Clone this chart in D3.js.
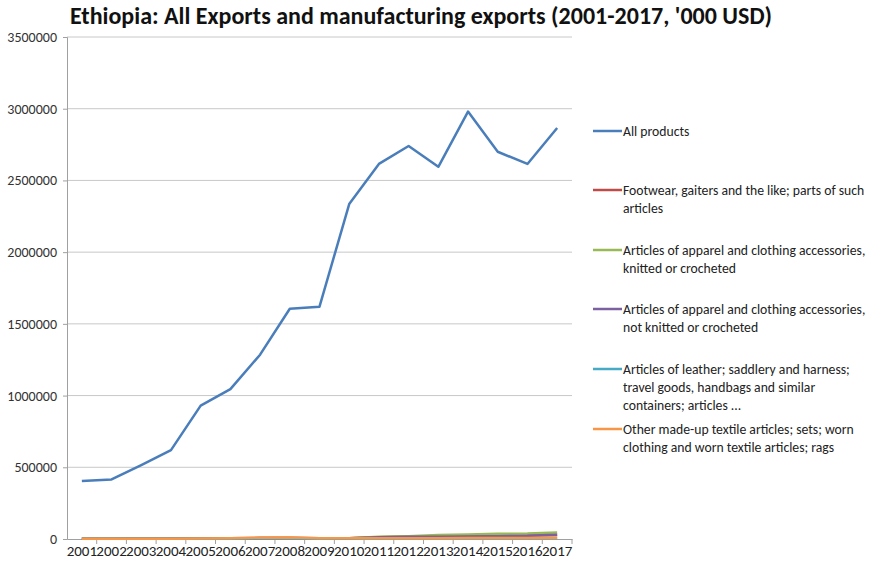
<!DOCTYPE html>
<html><head><meta charset="utf-8">
<script src="https://cdn.jsdelivr.net/npm/d3@7"></script>
<style>body{margin:0;background:#fff}svg{display:block}</style>
</head><body><svg id="c" width="878" height="566"></svg>
<script>
const years = ["2001","2002","2003","2004","2005","2006","2007","2008","2009","2010","2011","2012","2013","2014","2015","2016","2017"];
const yTicks = [0,500000,1000000,1500000,2000000,2500000,3000000,3500000];
const allProducts = [405000,415000,515000,620000,930000,1045000,1285000,1605000,1620000,2335000,2615000,2740000,2595000,2980000,2700000,2615000,2865000];
const footwear =    [2000,2500,3000,4000,5000,6000,8000,9000,6000,6000,12000,15000,18000,20000,22000,24000,28000];
const knitted =     [1000,1000,1000,1500,2000,2500,3000,3500,3000,5000,15000,20000,28000,32000,36000,38000,45000];
const notKnitted =  [1500,1500,2000,2000,2500,3000,4000,4500,4000,5000,12000,15000,15000,18000,20000,22000,30000];
const leather =     [1000,1000,1500,1500,2000,2500,3000,3000,2500,3000,4000,4500,5000,5000,5500,6000,7000];
const otherTextile =[1000,1000,1500,2000,3000,5000,9000,10000,6000,5000,6000,6000,6000,7000,7000,7000,8000];
const seriesNames = [
  ["All products"],
  ["Footwear, gaiters and the like; parts of such","articles"],
  ["Articles of apparel and clothing accessories,","knitted or crocheted"],
  ["Articles of apparel and clothing accessories,","not knitted or crocheted"],
  ["Articles of leather; saddlery and harness;","travel goods, handbags and similar","containers; articles ..."],
  ["Other made-up textile articles; sets; worn","clothing and worn textile articles; rags"]
];
const seriesValues = [allProducts, footwear, knitted, notKnitted, leather, otherTextile];
const colors = ["#4A7EBB","#BE4B48","#98B954","#7D60A0","#46AAC5","#F79646"];
const title = "Ethiopia: All Exports and manufacturing exports (2001-2017, '000 USD)";

const svg = d3.select("#c");
const font = "Carlito, 'Open Sans', 'Noto Sans', sans-serif";
const L = 67, R = 572, T = 37, B = 539;

const x = d3.scaleBand().domain(years).range([L, R]).padding(0);
const y = d3.scaleLinear().domain([0, 3500000]).range([B, T]);

svg.append("text").attr("x", 421).attr("y", 24).attr("text-anchor", "middle")
  .attr("font-family", font).attr("font-weight", "bold").attr("font-size", 24)
  .attr("fill", "#111").text(title);

// gridlines
svg.append("g").selectAll("line").data(yTicks.slice(1)).join("line")
  .attr("x1", L).attr("x2", R).attr("y1", d => y(d)).attr("y2", d => y(d))
  .attr("stroke", "#c8c8c8").attr("stroke-width", 1);

// y axis
const ya = svg.append("g").attr("transform", `translate(${L},0)`)
  .call(d3.axisLeft(y).tickValues(yTicks).tickSize(4).tickPadding(6).tickFormat(d3.format("d")));
ya.selectAll("text").attr("font-family", font).attr("font-size", 14).attr("fill", "#333");
ya.selectAll("line,path").attr("stroke", "#a0a0a0");

// x axis
const xa = svg.append("g").attr("transform", `translate(0,${B})`)
  .call(d3.axisBottom(x).tickSize(0).tickPadding(6));
xa.selectAll("text").attr("font-family", font).attr("font-size", 15).attr("fill", "#222");
xa.select("path").attr("stroke", "#a0a0a0");
xa.append("g").selectAll("line").data(years.slice(1).concat(["end"])).join("line")
  .attr("x1", (d,i) => L + x.step()*(i+1)).attr("x2", (d,i) => L + x.step()*(i+1))
  .attr("y1", 0).attr("y2", 5).attr("stroke", "#a0a0a0");

const line = d3.line().x((d,i) => x(years[i]) + x.bandwidth()/2).y(d => y(d));
seriesValues.forEach((vals, k) => {
  svg.append("path").datum(vals).attr("d", line).attr("fill", "none")
    .attr("stroke", colors[k]).attr("stroke-width", 2.5).attr("stroke-linejoin", "round");
});

// legend
const legY = [131, 190, 250, 309, 369, 429];
seriesNames.forEach((lines, k) => {
  const g = svg.append("g");
  g.append("line").attr("x1", 593).attr("x2", 622).attr("y1", legY[k]).attr("y2", legY[k])
    .attr("stroke", colors[k]).attr("stroke-width", 2.5);
  lines.forEach((t, j) => {
    g.append("text").attr("x", 623).attr("y", legY[k] + 5 + j*18)
      .attr("font-family", font).attr("font-size", 13.7).attr("fill", "#222").text(t);
  });
});
</script></body></html>
